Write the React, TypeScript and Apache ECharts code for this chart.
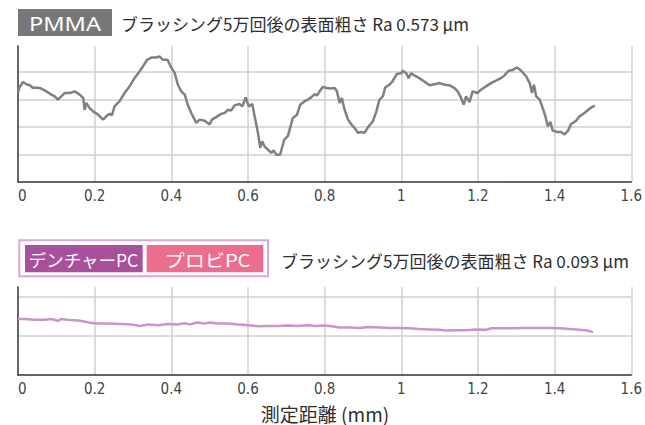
import React, { useEffect, useRef } from "react";
import * as echarts from "echarts";

// PMMA surface profile (distance mm, relative height)
const pmmaDistance = [
  0.000, 0.003, 0.013, 0.022, 0.031, 0.039, 0.048, 0.061, 0.074, 0.087, 0.096, 0.104, 0.113, 0.122, 0.135, 0.148,
  0.161, 0.170, 0.174, 0.178, 0.187, 0.196, 0.209, 0.222, 0.230, 0.239, 0.245, 0.252, 0.265, 0.278, 0.291, 0.304,
  0.317, 0.326, 0.337, 0.348, 0.361, 0.369, 0.378, 0.390, 0.398, 0.409, 0.417, 0.426, 0.435, 0.443, 0.452, 0.465,
  0.474, 0.487, 0.500, 0.506, 0.517, 0.530, 0.539, 0.548, 0.556, 0.565, 0.578, 0.585, 0.594, 0.602, 0.611, 0.620,
  0.626, 0.632, 0.637, 0.643, 0.652, 0.661, 0.667, 0.675, 0.684, 0.691, 0.695, 0.704, 0.710, 0.717, 0.728, 0.736,
  0.748, 0.756, 0.765, 0.774, 0.780, 0.787, 0.795, 0.806, 0.817, 0.826, 0.832, 0.839, 0.845, 0.852, 0.861, 0.870,
  0.878, 0.887, 0.895, 0.904, 0.913, 0.926, 0.935, 0.943, 0.952, 0.958, 0.969, 0.976, 0.982, 0.988, 1.000, 1.004,
  1.013, 1.019, 1.026, 1.034, 1.047, 1.060, 1.074, 1.087, 1.100, 1.113, 1.126, 1.139, 1.147, 1.156, 1.163, 1.169,
  1.178, 1.186, 1.198, 1.208, 1.221, 1.234, 1.247, 1.260, 1.269, 1.280, 1.291, 1.302, 1.313, 1.326, 1.335, 1.341,
  1.346, 1.352, 1.361, 1.369, 1.376, 1.382, 1.389, 1.395, 1.407, 1.417, 1.426, 1.435, 1.443, 1.456, 1.465, 1.478,
  1.488, 1.496, 1.505,
];
const pmmaHeight = [
  3.24, 3.42, 3.64, 3.56, 3.52, 3.42, 3.44, 3.40, 3.30, 3.18, 3.12, 3.00, 3.12, 3.24, 3.24, 3.30,
  3.18, 3.06, 2.63, 2.88, 2.69, 2.57, 2.45, 2.27, 2.39, 2.48, 2.43, 2.75, 2.94, 3.24, 3.48, 3.78,
  4.02, 4.21, 4.45, 4.53, 4.53, 4.57, 4.45, 4.45, 4.21, 3.96, 3.54, 3.30, 3.18, 2.81, 2.51, 2.15,
  2.27, 2.23, 2.09, 2.27, 2.36, 2.48, 2.51, 2.63, 2.60, 2.79, 2.84, 2.75, 3.08, 2.75, 2.84, 2.21,
  1.79, 1.24, 1.48, 1.30, 1.18, 1.06, 1.15, 0.98, 1.00, 1.36, 1.55, 1.67, 1.97, 2.33, 2.45, 2.81,
  2.94, 3.00, 3.08, 3.20, 3.15, 3.30, 3.46, 3.42, 3.40, 3.42, 3.30, 2.88, 3.06, 2.63, 2.27, 2.09,
  1.97, 1.79, 1.82, 1.79, 1.99, 2.21, 2.57, 3.00, 3.12, 3.44, 3.54, 3.64, 3.78, 3.93, 3.96, 4.05,
  3.96, 3.78, 3.96, 3.88, 3.78, 3.66, 3.52, 3.56, 3.60, 3.54, 3.52, 3.42, 3.30, 3.06, 2.81, 3.12,
  2.91, 3.30, 3.24, 3.36, 3.48, 3.60, 3.69, 3.78, 3.88, 4.05, 4.08, 4.17, 4.05, 3.84, 3.60, 3.24,
  3.54, 3.12, 3.00, 2.69, 2.39, 2.03, 2.19, 1.87, 1.82, 1.82, 1.73, 1.87, 2.11, 2.23, 2.39, 2.51,
  2.63, 2.72, 2.78,
];

// Denture PC / Provi PC surface profile
const pcDistance = [
  0.000, 0.017, 0.044, 0.070, 0.087, 0.104, 0.113, 0.135, 0.157, 0.170, 0.187, 0.204, 0.235, 0.270, 0.296, 0.317,
  0.339, 0.365, 0.391, 0.417, 0.435, 0.448, 0.469, 0.487, 0.500, 0.521, 0.548, 0.574, 0.600, 0.626, 0.652, 0.678,
  0.704, 0.730, 0.756, 0.778, 0.795, 0.813, 0.839, 0.865, 0.891, 0.917, 0.943, 0.969, 0.995, 1.021, 1.047, 1.074,
  1.100, 1.117, 1.143, 1.169, 1.195, 1.221, 1.234, 1.260, 1.291, 1.317, 1.343, 1.369, 1.395, 1.413, 1.439, 1.465,
  1.482, 1.500,
];
const pcHeight = [
  1.44, 1.44, 1.42, 1.42, 1.44, 1.39, 1.44, 1.41, 1.40, 1.38, 1.34, 1.32, 1.32, 1.31, 1.30, 1.26,
  1.30, 1.28, 1.31, 1.30, 1.33, 1.30, 1.35, 1.32, 1.35, 1.32, 1.32, 1.30, 1.28, 1.25, 1.26, 1.26,
  1.27, 1.26, 1.28, 1.26, 1.27, 1.26, 1.22, 1.22, 1.21, 1.23, 1.22, 1.21, 1.21, 1.20, 1.18, 1.17,
  1.16, 1.14, 1.15, 1.15, 1.17, 1.16, 1.20, 1.20, 1.20, 1.21, 1.21, 1.21, 1.21, 1.20, 1.18, 1.16,
  1.15, 1.10,
];

const xMin = 0;
const xMax = 1.6;
const xStep = 0.2;

const titleTop = "ブラッシング5万回後の表面粗さ Ra 0.573 µm";
const titleBottom = "ブラッシング5万回後の表面粗さ Ra 0.093 µm";
const labelPmma = "PMMA";
const labelDenture = "デンチャーPC";
const labelProvi = "プロビPC";
const xAxisTitle = "測定距離 (mm)";

const JP = "'Noto Sans CJK JP', 'Noto Sans', sans-serif";
const NARROW = "'Liberation Sans Narrow', 'DejaVu Sans Condensed', 'Liberation Sans', sans-serif";

function makeX(gridIndex: number) {
  return {
    type: "value",
    gridIndex,
    min: xMin,
    max: xMax,
    interval: xStep,
    axisLine: { show: true, lineStyle: { color: "#333", width: 1.5 } },
    axisTick: { show: false },
    axisLabel: { color: "#444", fontSize: 15, fontFamily: NARROW, margin: 6, alignMinLabel: "left" },
    splitLine: { show: true, showMinLine: false, lineStyle: { color: "#d0d0d0", width: 1.5 } },
  };
}

function makeY(gridIndex: number, max: number) {
  return {
    type: "value",
    gridIndex,
    min: 0,
    max,
    interval: 1,
    axisLine: { show: true, onZero: false, lineStyle: { color: "#333", width: 1.5 } },
    axisTick: { show: false },
    axisLabel: { show: false },
    splitLine: { show: true, showMinLine: false, showMaxLine: false, lineStyle: { color: "#d0d0d0", width: 1.5 } },
  };
}

export default function App() {
  const ref = useRef<HTMLDivElement>(null);
  useEffect(() => {
    if (!ref.current) return;
    const chart = echarts.init(ref.current, null, { renderer: "svg" });
    const option = {
      animation: false,
      backgroundColor: "#fff",
      grid: [
        { left: 18, right: 13, top: 46, height: 136 },
        { left: 18, right: 13, top: 287, height: 88 },
      ],
      xAxis: [makeX(0), makeX(1)],
      yAxis: [makeY(0, 4.95), makeY(1, 2.26)],
      series: [
        {
          type: "line",
          xAxisIndex: 0,
          yAxisIndex: 0,
          showSymbol: false,
          data: pmmaDistance.map((d, i) => [d, pmmaHeight[i]]),
          lineStyle: { color: "#808080", width: 2.5 },
          itemStyle: { color: "#808080" },
        },
        {
          type: "line",
          xAxisIndex: 1,
          yAxisIndex: 1,
          showSymbol: false,
          data: pcDistance.map((d, i) => [d, pcHeight[i]]),
          lineStyle: { color: "#c994cb", width: 2.5 },
          itemStyle: { color: "#c994cb" },
        },
      ],
      graphic: [
        { type: "rect", shape: { x: 18, y: 9, width: 94, height: 27 }, style: { fill: "#777777" } },
        {
          type: "text",
          x: 65,
          y: 23,
          scaleX: 1.15,
          style: { text: labelPmma, fill: "#fff", fontSize: 20.5, fontFamily: "'Noto Sans', sans-serif", align: "center", verticalAlign: "middle" },
        },
        {
          type: "text",
          x: 121,
          y: 23,
          style: { text: titleTop, fill: "#2e2e2e", fontSize: 17, fontFamily: JP, align: "left", verticalAlign: "middle" },
        },
        {
          type: "rect",
          shape: { x: 19.3, y: 240.3, width: 248.7, height: 36 },
          style: { fill: "#fff", stroke: "#d9a9d6", lineWidth: 2 },
        },
        { type: "rect", shape: { x: 25, y: 245, width: 117.7, height: 27.3 }, style: { fill: "#a8509c" } },
        { type: "rect", shape: { x: 146.7, y: 245, width: 116.6, height: 27.3 }, style: { fill: "#ec6d8e" } },
        {
          type: "text",
          x: 83.5,
          y: 259,
          style: { text: labelDenture, fill: "#fff", fontSize: 17.5, fontFamily: JP, align: "center", verticalAlign: "middle" },
        },
        {
          type: "text",
          x: 207.5,
          y: 259,
          scaleX: 1.15,
          style: { text: labelProvi, fill: "#fff", fontSize: 17.5, fontFamily: JP, align: "center", verticalAlign: "middle" },
        },
        {
          type: "text",
          x: 281,
          y: 260,
          style: { text: titleBottom, fill: "#2e2e2e", fontSize: 17, fontFamily: JP, align: "left", verticalAlign: "middle" },
        },
        {
          type: "text",
          x: 325,
          y: 413,
          style: { text: xAxisTitle, fill: "#2e2e2e", fontSize: 19, fontFamily: JP, align: "center", verticalAlign: "middle" },
        },
      ],
    };
    chart.setOption(option as any);
    return () => chart.dispose();
  }, []);
  return <div ref={ref} style={{ position: "absolute", left: 0, top: 0, width: 645, height: 425 }} />;
}
